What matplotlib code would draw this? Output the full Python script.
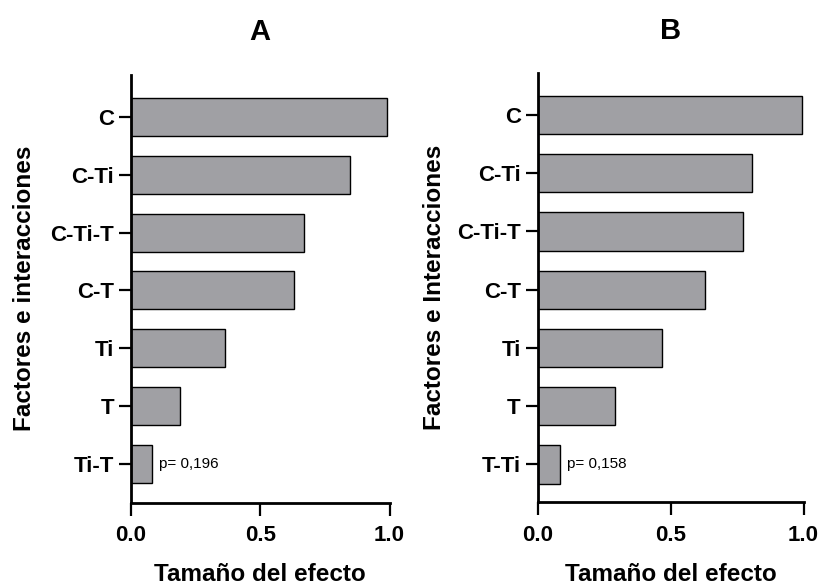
import matplotlib
matplotlib.use("Agg")
import matplotlib.pyplot as plt

plt.rcParams['font.family'] = ['Liberation Sans', 'DejaVu Sans']

# ---- data ----
cats_a = ["C", "C-Ti", "C-Ti-T", "C-T", "Ti", "T", "Ti-T"]
vals_a = [0.99, 0.847, 0.669, 0.631, 0.365, 0.19, 0.08]
p_a = "p= 0,196"

cats_b = ["C", "C-Ti", "C-Ti-T", "C-T", "Ti", "T", "T-Ti"]
vals_b = [0.993, 0.805, 0.771, 0.631, 0.469, 0.291, 0.083]
p_b = "p= 0,158"

xticks = [0.0, 0.5, 1.0]
xticklabels = ["0.0", "0.5", "1.0"]
titles = ["A", "B"]
ylabels = ["Factores e interacciones", "Factores e Interacciones"]
xlabel = "Tamaño del efecto"

W, H = 820, 586
fig = plt.figure(figsize=(W / 100, H / 100), dpi=100)

def px_axes(left, right, top, bottom):
    return fig.add_axes([left / W, 1 - bottom / H, (right - left) / W, (bottom - top) / H])

panels = [
    dict(cats=cats_a, vals=vals_a, p=p_a, title=titles[0], ylabel=ylabels[0],
         box=(131, 389.5, 75, 502.5), ylim=(6.67, -0.727), ylab_x=-0.368),
    dict(cats=cats_b, vals=vals_b, p=p_b, title=titles[1], ylabel=ylabels[1],
         box=(537.5, 803.5, 73.3, 502.3), ylim=(6.65, -0.716), ylab_x=-0.345),
]

for pn in panels:
    ax = px_axes(*pn["box"])
    pos = list(range(len(pn["cats"])))
    ax.barh(pos, pn["vals"], height=0.66, color="#a0a0a4", edgecolor="black",
            linewidth=1.0, zorder=2)
    ax.set_ylim(*pn["ylim"])
    ax.set_xlim(0, 1.0)
    ax.set_yticks(pos)
    ax.set_yticklabels(pn["cats"], fontsize=16, fontweight="bold")
    ax.set_xticks(xticks)
    ax.set_xticklabels(xticklabels, fontsize=16, fontweight="bold")
    for s in ["top", "right"]:
        ax.spines[s].set_visible(False)
    for s in ["left", "bottom"]:
        ax.spines[s].set_linewidth(2.0)
        ax.spines[s].set_capstyle("projecting")
    ax.tick_params(axis="both", length=9, width=1.6, color="black")
    ax.tick_params(axis="y", pad=3)
    ax.tick_params(axis="x", pad=7)
    ax.set_ylabel(pn["ylabel"], fontsize=17.5, fontweight="bold")
    ax.yaxis.set_label_coords(pn["ylab_x"], 0.5)
    ax.set_xlabel(xlabel, fontsize=17.5, fontweight="bold")
    ax.xaxis.set_label_coords(0.5, -0.142)
    ax.set_title(pn["title"], fontsize=21, fontweight="bold", pad=25)
    last = len(pn["cats"]) - 1
    ax.annotate(pn["p"], xy=(pn["vals"][last], last), xytext=(5, 0),
                textcoords="offset points", va="center", ha="left", fontsize=11)

fig.savefig("out.png", dpi=100)
